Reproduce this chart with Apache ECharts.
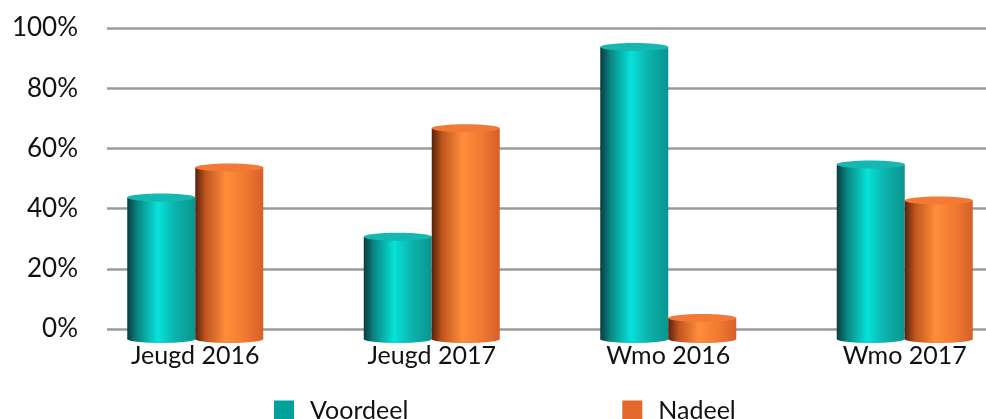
<!DOCTYPE html>
<html>
<head>
<meta charset="utf-8">
<script src="https://cdn.jsdelivr.net/npm/echarts@6/dist/echarts.min.js"></script>
<style>
  html, body { margin: 0; padding: 0; background: #fff; }
  #chart { width: 986px; height: 419px; }
</style>
</head>
<body>
<div id="chart"></div>
<script>
const categories = ['Jeugd 2016', 'Jeugd 2017', 'Wmo 2016', 'Wmo 2017']
const voordeel = [45, 32, 95, 56]
const nadeel = [55, 68, 5, 44]
const yTicks = [0, 20, 40, 60, 80, 100]

const FONT = 'Lato, "Open Sans", sans-serif'
const BAR_W = 68

const tealStops = [
  { offset: 0, color: '#0b3b3c' },
  { offset: 0.15, color: '#0a8682' },
  { offset: 0.45, color: '#06e2da' },
  { offset: 0.7, color: '#0cb3ac' },
  { offset: 1, color: '#0a958f' }
]
const orangeStops = [
  { offset: 0, color: '#56220f' },
  { offset: 0.15, color: '#bf541e' },
  { offset: 0.45, color: '#ff8d3b' },
  { offset: 0.75, color: '#f07831' },
  { offset: 1, color: '#d65f29' }
]

// draws a cylinder for one bar, positioned with the axis scales
function cylinder(offset, stops, topColor) {
  return function (params, api) {
    const cat = api.value(0)
    const top = api.coord([cat, api.value(1)])
    const base = api.coord([cat, 0])
    const x = top[0] + offset - BAR_W / 2
    const cx = x + BAR_W / 2
    const ry = 4
    const bottom = base[1] + 14 - ry
    const fill = new echarts.graphic.LinearGradient(0, 0, 1, 0, stops)
    return {
      type: 'group',
      children: [
        {
          type: 'ellipse',
          shape: { cx: cx, cy: bottom, rx: BAR_W / 2, ry: ry },
          style: { fill: fill }
        },
        {
          type: 'rect',
          shape: { x: x, y: top[1] + ry, width: BAR_W, height: bottom - top[1] - ry },
          style: { fill: fill }
        },
        {
          type: 'ellipse',
          shape: { cx: cx, cy: top[1] + ry, rx: BAR_W / 2, ry: ry },
          style: { fill: topColor }
        }
      ]
    }
  }
}

const chart = echarts.init(document.getElementById('chart'), null, { renderer: 'canvas' })

chart.setOption({
  backgroundColor: '#ffffff',
  animation: false,
  legend: {
    data: ['Voordeel', 'Nadeel'],
    left: 269,
    top: 393,
    icon: 'rect',
    itemWidth: 20,
    itemHeight: 20,
    itemGap: 214,
    textStyle: { fontFamily: FONT, fontSize: 25, color: '#111', padding: [0, 0, 0, 11] }
  },
  grid: [
    { left: 107, right: 0, top: 28, bottom: 90, outerBoundsMode: 'none' },
    { left: 77, width: 946, top: 28, bottom: 90, outerBoundsMode: 'none' }
  ],
  xAxis: [
    { gridIndex: 0, type: 'value', show: false, min: 0, max: 1 },
    {
      gridIndex: 1,
      type: 'category',
      data: categories,
      axisLine: { show: false },
      axisTick: { show: false },
      axisLabel: { fontFamily: FONT, fontSize: 25, color: '#111', margin: 14 }
    }
  ],
  yAxis: [
    {
      gridIndex: 0,
      type: 'value',
      min: 0,
      max: 100,
      interval: 20,
      axisLine: { show: false },
      axisTick: { show: false },
      axisLabel: {
        fontFamily: FONT, fontSize: 26, color: '#111', margin: 29,
        formatter: v => yTicks.includes(v) ? v + '%' : ''
      },
      splitLine: { lineStyle: { color: '#9b9b9b', width: 2.5 } }
    },
    { gridIndex: 1, type: 'value', min: 0, max: 100, show: false }
  ],
  series: [
    {
      name: 'Voordeel',
      type: 'custom',
      xAxisIndex: 1,
      yAxisIndex: 1,
      clip: false,
      itemStyle: { color: '#00a19a' },
      encode: { x: 0, y: 1 },
      data: voordeel.map((v, i) => [i, v]),
      renderItem: cylinder(-BAR_W / 2, tealStops, '#14b8b0')
    },
    {
      name: 'Nadeel',
      type: 'custom',
      xAxisIndex: 1,
      yAxisIndex: 1,
      clip: false,
      itemStyle: { color: '#e4672c' },
      encode: { x: 0, y: 1 },
      data: nadeel.map((v, i) => [i, v]),
      renderItem: cylinder(BAR_W / 2, orangeStops, '#f27a36')
    }
  ]
})
</script>
</body>
</html>
